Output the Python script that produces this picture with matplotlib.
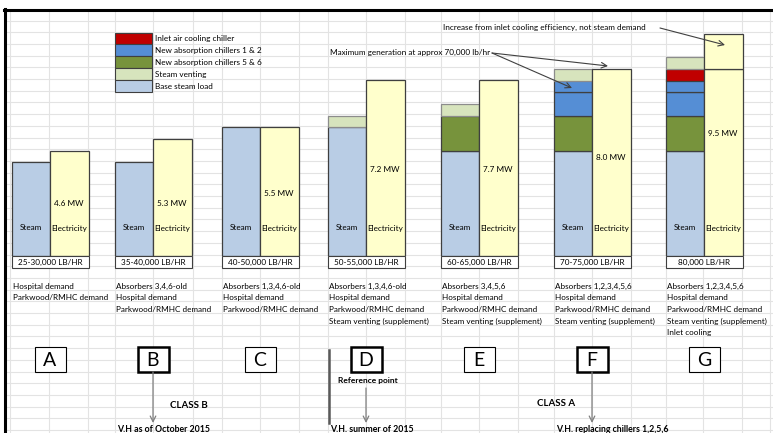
import numpy as np
import matplotlib
matplotlib.use("Agg")
import matplotlib.pyplot as plt
from matplotlib.patches import Rectangle

plt.rcParams['font.family'] = ['Lato', 'DejaVu Sans']

# data (heights in spreadsheet rows)
cases = ['A', 'B', 'C', 'D', 'E', 'F', 'G']
base_steam = [8, 8, 11, 11, 9, 9, 9]
chillers_56 = [0, 0, 0, 0, 3, 3, 3]
chillers_12a = [0, 0, 0, 0, 0, 2, 2]
chillers_12b = [0, 0, 0, 0, 0, 1, 1]
inlet_chiller = [0, 0, 0, 0, 0, 0, 1]
venting = [0, 0, 0, 1, 1, 1, 1]
electricity = [9, 10, 11, 15, 15, 16, 16]
elec_inlet = [0, 0, 0, 0, 0, 0, 3]
mw = ['4.6 MW', '5.3 MW', '5.5 MW', '7.2 MW', '7.7 MW', '8.0 MW', '9.5 MW']
ranges = ['25-30,000 LB/HR', '35-40,000 LB/HR', '40-50,000 LB/HR', '50-55,000 LB/HR',
          '60-65,000 LB/HR', '70-75,000 LB/HR', '80,000 LB/HR']
notes = [
    ['Hospital demand', 'Parkwood/RMHC demand'],
    ['Absorbers 3,4,6-old', 'Hospital demand', 'Parkwood/RMHC demand'],
    ['Absorbers 1,3,4,6-old', 'Hospital demand', 'Parkwood/RMHC demand'],
    ['Absorbers 1,3,4,6-old', 'Hospital demand', 'Parkwood/RMHC demand', 'Steam venting (supplement)'],
    ['Absorbers 3,4,5,6', 'Hospital demand', 'Parkwood/RMHC demand', 'Steam venting (supplement)'],
    ['Absorbers 1,2,3,4,5,6', 'Hospital demand', 'Parkwood/RMHC demand', 'Steam venting (supplement)'],
    ['Absorbers 1,2,3,4,5,6', 'Hospital demand', 'Parkwood/RMHC demand', 'Steam venting (supplement)', 'Inlet cooling'],
]
legend_labels = ['Inlet air cooling chiller', 'New absorption chillers 1 & 2',
                 'New absorption chillers 5 & 6', 'Steam venting', 'Base steam load']

# layout (pixels)
W, H = 773, 433
left = np.array([12, 115, 222, 328, 441, 554, 666])
bw = 38
base_px, top_px, nrows = 256, 22, 20
mw_y = [204, 204, 193, 169, 169, 157, 134]
thick = [False, True, False, True, False, True, False]

c_base, c_elec, c_vent = '#B9CDE5', '#FFFFCC', '#D7E4BD'
c_green, c_blue, c_red = '#77933C', '#558ED5', '#C00000'
edge = '#3F3F3F'

fig = plt.figure(figsize=(W / 100, H / 100), dpi=100)

def pixel_axes():
    a = fig.add_axes([0, 0, 1, 1])
    a.set_xlim(0, W)
    a.set_ylim(H, 0)
    a.axis('off')
    a.patch.set_alpha(0)
    return a

bg = pixel_axes()

# spreadsheet grid
cols = [10, 49, 88, 115, 153, 193, 222, 260, 299, 328, 366, 405, 441, 479, 518,
        554, 592, 631, 666, 703, 742, 770]
for x in cols:
    bg.plot([x, x], [10, H], color='#E3E3E3', lw=0.8, zorder=0)
for y in np.arange(20.5, H, 11.7):
    bg.plot([5, W], [y, y], color='#E3E3E3', lw=0.8, zorder=0)

# bars
ax = fig.add_axes([0, (H - base_px) / H, 1, (base_px - top_px) / H])
ax.set_xlim(0, W)
ax.set_ylim(0, nrows)
ax.axis('off')
ax.patch.set_alpha(0)

xs = left + bw / 2
xe = left + bw + bw / 2
bottom = np.zeros(len(cases))
for vals, col, ec in [(base_steam, c_base, edge), (chillers_56, c_green, edge),
                      (chillers_12a, c_blue, edge), (chillers_12b, c_blue, edge),
                      (inlet_chiller, c_red, edge), (venting, c_vent, '#8C8C8C')]:
    vals = np.array(vals, dtype=float)
    m = vals > 0
    ax.bar(xs[m], vals[m], bottom=bottom[m], width=bw, color=col, edgecolor=ec, lw=0.9)
    bottom += vals
ax.bar(xe, electricity, width=bw + 1, color=c_elec, edgecolor=edge, lw=0.9)
ei = np.array(elec_inlet, dtype=float)
m = ei > 0
ax.bar(xe[m], ei[m], bottom=np.array(electricity)[m], width=bw + 1, color=c_elec,
       edgecolor=edge, lw=0.9)

# texts and shapes on top
top = pixel_axes()
top.plot([5, 5], [9, H], color='black', lw=2.2, zorder=5)
top.plot([4, W], [10, 10], color='black', lw=2.2, zorder=5)

fs = 5.9
for i in range(len(cases)):
    l = left[i]
    top.text(l + bw / 2, 228, 'Steam', ha='center', va='center', fontsize=fs)
    top.text(l + bw * 1.5, 228, 'Electricity', ha='center', va='center', fontsize=fs)
    top.text(l + bw * 1.5, mw_y[i], mw[i], ha='center', va='center', fontsize=fs)
    top.add_patch(Rectangle((l, 256), 2 * bw + 1, 12, fc='white', ec=edge, lw=0.8, zorder=3))
    top.text(l + bw, 262.5, ranges[i], ha='center', va='center', fontsize=fs, zorder=4)
    for j, s in enumerate(notes[i]):
        top.text(l + 1, 286 + j * 11.7, s, ha='left', va='center', fontsize=fs)
    cx = l + bw
    top.add_patch(Rectangle((cx - 15.5, 347), 31, 25, fc='white', ec='black',
                            lw=1.8 if thick[i] else 0.8, zorder=3))
    top.text(cx, 360, cases[i], ha='center', va='center', fontsize=14, zorder=4)

# legend
lcols = [c_red, c_blue, c_green, c_vent, c_base]
for j, (lab, col) in enumerate(zip(legend_labels, lcols)):
    y0 = 32.5 + j * 11.9
    top.add_patch(Rectangle((115, y0), 37, 11.9, fc=col, ec=edge, lw=0.8))
    top.text(155, y0 + 6, lab, ha='left', va='center', fontsize=fs)

# annotations
ak = dict(arrowstyle='->', color='#404040', lw=0.8, shrinkA=0, shrinkB=0)
top.text(443, 27, 'Increase from inlet cooling efficiency, not steam demand',
         ha='left', va='center', fontsize=fs)
top.annotate('', xy=(725, 45), xytext=(660, 28), arrowprops=ak)
top.text(330, 52, 'Maximum generation at approx 70,000 lb/hr', ha='left', va='center', fontsize=fs)
top.annotate('', xy=(608, 66), xytext=(492, 53), arrowprops=ak)
top.annotate('', xy=(572, 88), xytext=(492, 53), arrowprops=ak)

gk = dict(arrowstyle='->', color='#7F7F7F', lw=0.9, shrinkA=0, shrinkB=0)
top.annotate('', xy=(153, 423), xytext=(153, 372), arrowprops=gk)
top.annotate('', xy=(366, 423), xytext=(366, 388), arrowprops=gk)
top.annotate('', xy=(592, 423), xytext=(592, 372), arrowprops=gk)
top.plot([328.5, 328.5], [350, 423], color='#595959', lw=1.8)

bf = 6.3
top.text(170, 405, 'CLASS B', ha='left', va='center', fontsize=7, fontweight='bold')
top.text(537, 404, 'CLASS A', ha='left', va='center', fontsize=7, fontweight='bold')
top.text(338, 381, 'Reference point', ha='left', va='center', fontsize=6, fontweight='bold')
top.text(117, 430, 'V.H as of October 2015', ha='left', va='center', fontsize=bf, fontweight='bold')
top.text(330, 430, 'V.H. summer of 2015', ha='left', va='center', fontsize=bf, fontweight='bold')
top.text(556, 430, 'V.H. replacing chillers 1,2,5,6', ha='left', va='center', fontsize=bf, fontweight='bold')

fig.savefig('out.png', dpi=100)
